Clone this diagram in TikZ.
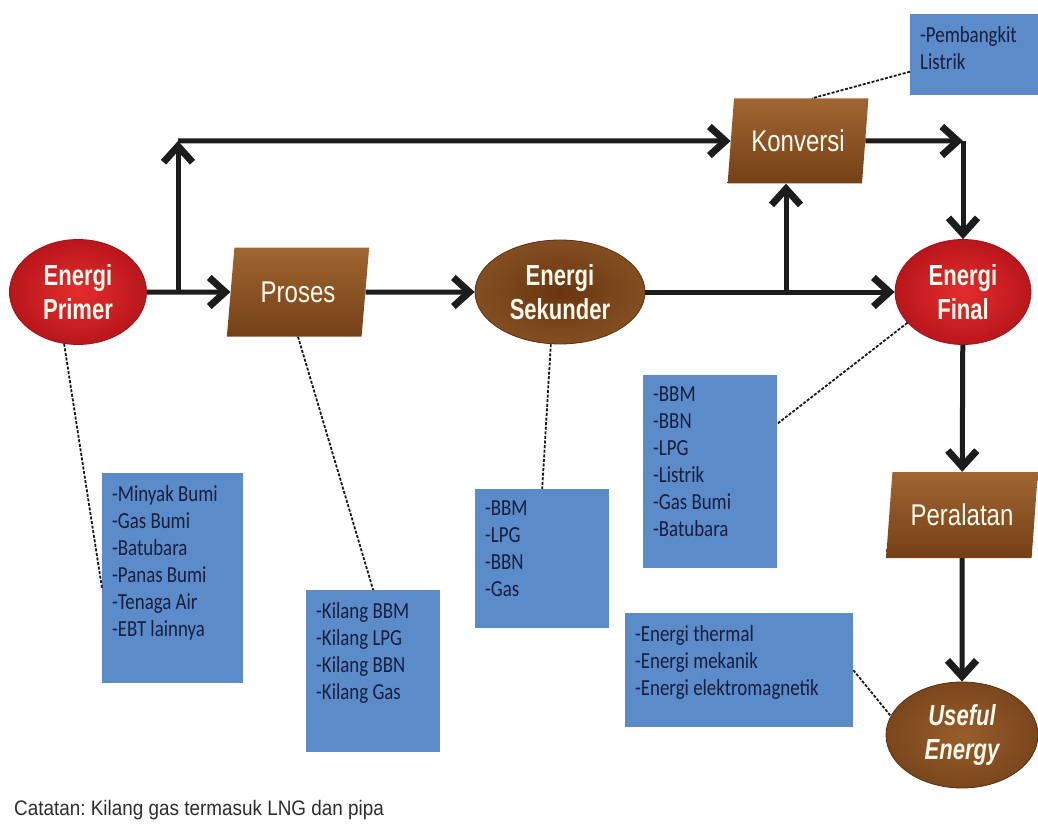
\documentclass[tikz,border=0pt]{standalone}
\usepackage{fontspec}
\setmainfont{Liberation Sans}
\newfontfamily\labelsans[FakeStretch=0.76]{Liberation Sans}
\newfontfamily\stagesans[FakeStretch=0.8]{Liberation Sans}
\newfontfamily\notesans[FakeStretch=0.9]{Liberation Sans}
\newfontfamily\listfont[FakeStretch=0.82]{Carlito}
\usetikzlibrary{shapes.geometric,arrows.meta}
\frenchspacing

\definecolor{redlight}{RGB}{228,45,45}
\definecolor{reddark}{RGB}{185,22,28}
\definecolor{redrim}{RGB}{160,20,25}
\definecolor{brownlight}{RGB}{160,102,50}
\definecolor{browndark}{RGB}{116,64,22}
\definecolor{sekinner}{RGB}{104,54,16}
\definecolor{sekouter}{RGB}{132,78,34}
\definecolor{useinner}{RGB}{152,94,44}
\definecolor{useouter}{RGB}{122,70,28}
\definecolor{brownrim}{RGB}{90,48,14}
\definecolor{labeltext}{RGB}{255,250,238}
\definecolor{flowblack}{RGB}{28,28,28}
\definecolor{listblue}{RGB}{91,139,200}
\definecolor{listtext}{RGB}{22,30,62}
\definecolor{notegray}{RGB}{45,45,45}

% list text inside a fixed-size box, starting at the top left
\newcommand\itemlist[3]{\parbox[t][#2][t]{#1}{\vspace*{12pt}\setlength{\leftskip}{10pt}#3}}

\begin{document}
\begin{tikzpicture}[x=1pt,y=-1pt,
  oval/.style={ellipse, inner sep=0pt, align=center, text=labeltext,
    font=\labelsans\bfseries\fontsize{29}{34}\selectfont},
  redoval/.style={oval, inner color=redlight, outer color=reddark, draw=redrim, line width=0.8pt},
  brownoval/.style={oval, inner color=sekinner, outer color=sekouter, draw=brownrim, line width=0.8pt},
  slanted/.style={trapezium, trapezium left angle=78, trapezium right angle=102,
    trapezium stretches=true, inner sep=0pt, top color=brownlight, bottom color=browndark,
    text=labeltext, font=\stagesans\fontsize{30}{34}\selectfont},
  flow/.style={draw=flowblack, line width=5pt,
    -{Straight Barb[length=16pt,width=29pt,line width=7pt]}},
  leader/.style={draw=black!90, line width=1.8pt, dash pattern=on 3pt off 1.6pt},
  listbox/.style={fill=listblue, inner sep=0pt, anchor=north west, text=listtext,
    font=\listfont\fontsize{23}{27}\selectfont}
]
\fill[white] (0,0) rectangle (1038,829);
\useasboundingbox (0,0) rectangle (1038,829);

% flow stages
\node[redoval, minimum width=137, minimum height=105] (primer) at (78,292) {Energi\\Primer};
\node[slanted, minimum width=143, minimum height=89] (proses) at (298,292) {Proses};
\node[brownoval, minimum width=170, minimum height=104] (sekunder) at (560,292) {Energi\\Sekunder};
\node[slanted, minimum width=141, minimum height=85] (konversi) at (798,141) {Konversi};
\node[redoval, minimum width=136, minimum height=105] (final) at (963,292) {Energi\\Final};
\node[slanted, minimum width=152, minimum height=86] (peralatan) at (962,515) {Peralatan};
\node[brownoval, inner color=useinner, outer color=useouter, minimum width=152, minimum height=106,
  font=\labelsans\bfseries\itshape\fontsize{29}{34}\selectfont] (useful) at (962,735) {Useful\\Energy};

% lists of what belongs to each stage
\node[listbox] (primerlist) at (102,473) {\itemlist{141pt}{210pt}{-Minyak Bumi\par -Gas Bumi\par -Batubara\par -Panas Bumi\par -Tenaga Air\par -EBT lainnya}};
\node[listbox] (kilang) at (306,590) {\itemlist{134pt}{162pt}{-Kilang BBM\par -Kilang LPG\par -Kilang BBN\par -Kilang Gas}};
\node[listbox] (sekunderlist) at (475,489) {\itemlist{134pt}{139pt}{-BBM\par -LPG\par -BBN\par -Gas}};
\node[listbox] (finallist) at (643,375) {\itemlist{134pt}{193pt}{-BBM\par -BBN\par -LPG\par -Listrik\par -Gas Bumi\par -Batubara}};
\node[listbox] (thermal) at (625,613) {\itemlist{228pt}{114pt}{-Energi thermal\par -Energi mekanik\par -Energi elektromagnetik}};
\node[listbox] (pembangkit) at (910,14) {\itemlist{128pt}{81pt}{-Pembangkit\par Listrik}};

% main flow
\coordinate (j1) at (178,292);
\coordinate (c1) at (178,141);
\coordinate (j2) at (786,292);
\coordinate (c2) at (963,141);
\draw[flow] (primer) -- (proses);
\draw[flow] (j1) -- (c1);
\draw[flow] (c1) -- (konversi);
\draw[flow] (proses) -- (sekunder);
\draw[flow] (sekunder) -- (final);
\draw[flow] (j2) -- (j2 |- konversi.south);
\draw[flow] (konversi) -- (c2);
\draw[flow] (c2) -- (final);
\draw[flow] (final) -- (peralatan);
\draw[flow] (peralatan) -- (useful);

% dashed leaders to the lists
\draw[leader] (primer.255) -- ([yshift=-10pt]primerlist.west);
\draw[leader] (proses.south) -- (kilang.north);
\draw[leader] (sekunder.260) -- (sekunderlist.north);
\draw[leader] (final.209) -- ([yshift=48pt]finallist.east);
\draw[leader] ([yshift=-17pt]pembangkit.west) -- ([xshift=14pt]konversi.north);
\draw[leader] (thermal.east) -- (useful.165);

\node[anchor=base west, inner sep=0pt, text=notegray, font=\notesans\fontsize{21}{24}\selectfont] (note) at (14,815) {Catatan: Kilang gas termasuk LNG dan pipa};
\end{tikzpicture}
\end{document}
